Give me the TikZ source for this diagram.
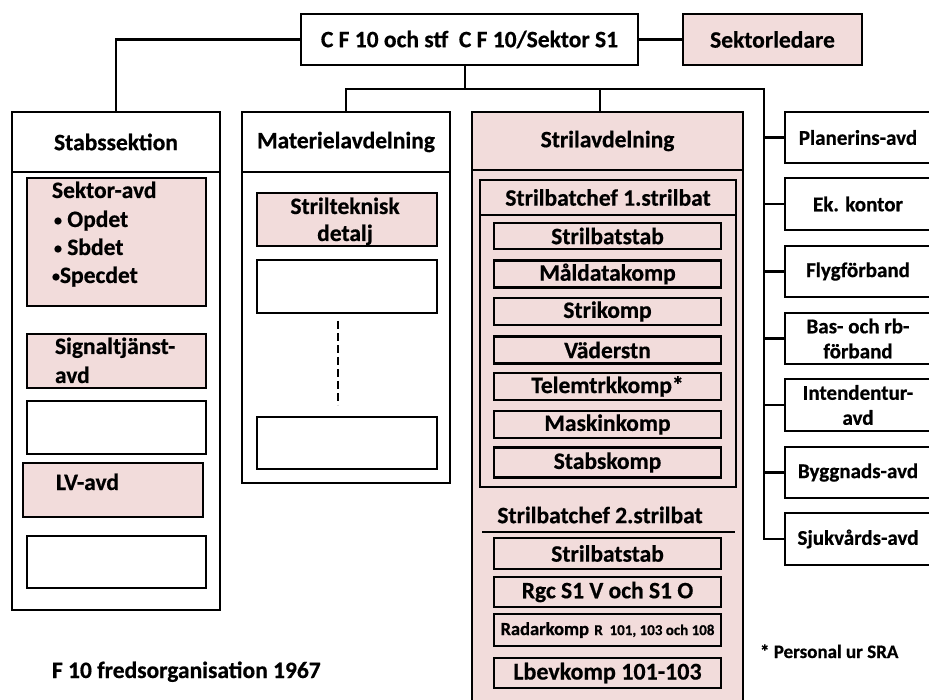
\documentclass[tikz,border=0pt]{standalone}
\usepackage{fontspec}
\setmainfont{Carlito}[BoldFeatures={FakeBold=0.6}]
\definecolor{rosa}{HTML}{F2DCDB}
\newcommand\szL{\fontsize{23.5}{28}\selectfont}
\newcommand\szM{\fontsize{21}{25}\selectfont}
\newcommand\szS{\fontsize{19}{22}\selectfont}
\newcommand\smallbullet{{\fontsize{16}{16}\selectfont\raisebox{1.5pt}{•}}}
\begin{document}
\begin{tikzpicture}[x=1pt,y=-1pt,line width=2.8pt,
  box/.style={draw=black,fill=white,inner sep=0pt,outer sep=0pt,align=center,font=\bfseries\szL},
  pbox/.style={box,fill=rosa},
  rbox/.style={box,font=\bfseries\szM,minimum width=146,minimum height=51},
  ibox/.style={pbox,minimum width=227},
  wh/.style 2 args={minimum width=#1,minimum height=#2},
  txt/.style={inner sep=0pt,outer sep=0pt,font=\bfseries\szL},
  ltxt/.style={txt,anchor=base west}]
\useasboundingbox (0,0) rectangle (929,700);
\clip (0,0) rectangle (929,700);

% top level
\node[box,wh={337}{51}] (top) at (469.5,39.5) {C F 10 och stf\ \ C F 10/Sektor S1};
\node[pbox,wh={179}{51}] (sektorledare) at (772.5,39.5) {Sektorledare};

% Stabssektion
\node[box,wh={208}{498}] (stab) at (116,361) {};
\node[box,wh={208}{60}] (stabH) at (116,142) {Stabssektion};
\node[pbox,wh={179}{128}] (sektoravd) at (116.5,242) {};
\node[ltxt] (sektoravdT) at (52,198) {Sektor-avd};
\node[ltxt] (opdet) at (54,227) {\smallbullet\ Opdet};
\node[ltxt] (sbdet) at (54,255) {\smallbullet\ Sbdet};
\node[ltxt] (specdet) at (52,283) {\smallbullet Specdet};
\node[pbox,wh={179}{54}] (signal) at (116.5,361) {};
\node[ltxt] (signalT1) at (55,354) {Signaltjänst-};
\node[ltxt] (signalT2) at (55,383) {avd};
\node[box,wh={179}{53}] (stabE1) at (116.5,427.5) {};
\node[pbox,wh={180}{54}] (lvavd) at (113,490) {};
\node[ltxt] (lvavdT) at (56,490) {LV-avd};
\node[box,wh={179}{52}] (stabE2) at (116.5,562) {};

% Materielavdelning
\node[box,wh={208}{371}] (mat) at (346,297.5) {};
\node[box,wh={208}{60}] (matH) at (346,142) {Materielavdelning};
\node[pbox,wh={180}{53}] (strilt) at (347,219.5) {};
\node[txt,anchor=base] (striltT1) at (345,214) {Strilteknisk};
\node[txt,anchor=base] (striltT2) at (345,241) {detalj};
\node[box,wh={180}{53}] (matE1) at (347,286.5) {};
\node[box,wh={180}{52}] (matE2) at (347,443) {};
\coordinate (dashA) at (338,321);
\coordinate (dashB) at (338,405);
\draw[line width=2.2pt,dash pattern=on 8pt off 4pt] (dashA) -- (dashB);

% Strilavdelning
\node[pbox,wh={271}{648}] (stril) at (607.5,436) {};
\node[pbox,wh={271}{58}] (strilH) at (607.5,141) {Strilavdelning};
\node[pbox,wh={256}{307}] (bat1) at (608,333.5) {};
\node[pbox,wh={256}{35}] (bat1H) at (608,197.5) {Strilbatchef 1.strilbat};
\node[ibox,minimum height=26] (stab1) at (607.5,236) {Strilbatstab};
\node[ibox,minimum height=27] (maldata) at (607.5,274) {Måldatakomp};
\node[ibox,minimum height=27] (strikomp) at (607.5,311.5) {Strikomp};
\node[ibox,minimum height=27] (vader) at (607.5,350) {Väderstn};
\node[ibox,minimum height=27] (telem) at (607.5,386.5) {Telemtrkkomp*};
\node[ibox,minimum height=27] (maskin) at (607.5,424.5) {Maskinkomp};
\node[ibox,minimum height=30] (stabskomp) at (607.5,462.5) {Stabskomp};
\node[txt] (bat2T) at (600,515) {Strilbatchef 2.strilbat};
\coordinate (bat2L) at (482,532);
\coordinate (bat2R) at (735,532);
\draw (bat2L) -- (bat2R);
\node[ibox,minimum height=31] (stab2) at (607.5,553.5) {Strilbatstab};
\node[ibox,minimum height=30] (rgc) at (607.5,592) {Rgc S1 V och S1 O};
\node[ibox,minimum height=32] (radar) at (607.5,630) {{\fontsize{18.5}{20}\selectfont Radarkomp} {\fontsize{15}{17}\selectfont R\ \ 101, 103 och 108}};
\node[ibox,minimum height=30,font=\bfseries\fontsize{24}{28}\selectfont] (lbev) at (607.5,673) {Lbevkomp 101-103};

% right column
\node[rbox] (plan) at (858,137.5) {Planerins-avd};
\node[rbox,minimum height=52] (ek) at (858,204) {Ek. kontor};
\node[rbox] (flyg) at (858,271.5) {Flygförband};
\node[rbox] (bas) at (858,338.5) {Bas- och rb-\\förband};
\node[rbox,minimum height=52] (intend) at (858,405) {Intendentur-\\avd};
\node[rbox] (bygg) at (858,472.5) {Byggnads-avd};
\node[rbox,minimum height=52] (sjuk) at (858,539) {Sjukvårds-avd};

% connectors
\draw (top.west) -| (stabH.north);
\draw (top.east) -- (sektorledare.west);
\coordinate (jn) at (465,89);
\coordinate (js) at (600,89);
\coordinate (je) at (764,89);
\draw (top.south -| jn) -- (jn);
\draw (matH.north) |- (je) -- (je |- sjuk.west) -- (sjuk.west);
\draw (js) -- (js |- strilH.north);
\foreach \n in {plan,ek,flyg,bas,intend,bygg}
  \draw (je |- \n.west) -- (\n.west);

% notes
\node[ltxt] (title) at (52,678) {F 10 fredsorganisation 1967};
\node[ltxt,font=\bfseries\szS] (note) at (760,658) {* Personal ur SRA};
\end{tikzpicture}
\end{document}
